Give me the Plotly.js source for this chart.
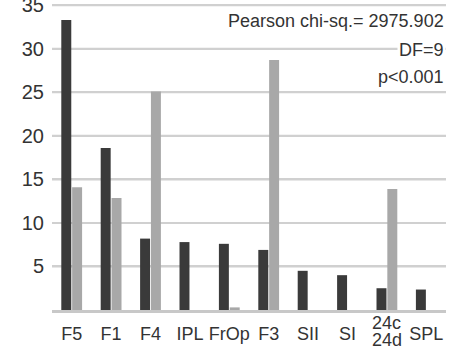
<!DOCTYPE html>
<html>
<head>
<meta charset="utf-8">
<script src="https://cdn.plot.ly/plotly-3.0.1.min.js"></script>
<style>html,body{margin:0;padding:0;background:#fff;}#chart{width:466px;height:349px;}</style>
</head>
<body>
<div id="chart"></div>
<script>
var categories = ["F5", "F1", "F4", "IPL", "FrOp", "F3", "SII", "SI", "24c/24d", "SPL"];
var tickLabels = ["F5", "F1", "F4", "IPL", "FrOp", "F3", "SII", "SI", "", "SPL"];
var splitLabel = ["24c", "24d"];
var seriesDark = [33.3, 18.6, 8.2, 7.8, 7.6, 6.9, 4.5, 4.0, 2.5, 2.35];
var seriesLight = [14.1, 12.85, 25.1, 0, 0.3, 28.7, 0, 0, 13.9, 0];
var yTicks = [5, 10, 15, 20, 25, 30, 35];
var statLines = ["Pearson chi-sq.= 2975.902", "DF=9", "p<0.001"];

var font = "Liberation Sans, Arial, sans-serif";
var traces = [
  {type: "bar", x: categories, y: seriesDark, marker: {color: "#3a3a3a"}},
  {type: "bar", x: categories, y: seriesLight, marker: {color: "#a8a8a8"}}
];

var plotTop = 0, plotBottom = 310;
var statY = [21, 50, 77];
var annotations = statLines.map(function (t, i) {
  return {text: t, xref: "paper", yref: "paper", x: 1, xanchor: "right",
    y: 1 - (statY[i] - plotTop) / (plotBottom - plotTop), yanchor: "middle", showarrow: false,
    bgcolor: "#ffffff", borderpad: 1,
    font: {family: font, size: 18, color: "#333333"}};
});
splitLabel.forEach(function (t, i) {
  annotations.push({text: t, xref: "x", yref: "paper", x: categories[8],
    y: 0, yanchor: "middle", yshift: -(13 + i * 17), showarrow: false,
    font: {family: font, size: 18, color: "#333333"}});
});

// horizontal grid lines at the tick values (drawn below the bars)
var shapes = yTicks.map(function (v) {
  return {type: "line", layer: "below", xref: "paper", x0: 0, x1: 1, yref: "y", y0: v, y1: v,
    line: {color: "#d0d0d0", width: 2}};
});

var layout = {
  width: 466, height: 349,
  margin: {l: 52, r: 20, t: plotTop, b: 349 - plotBottom, pad: 0},
  showlegend: false,
  barmode: "group", bargap: 0.45, bargroupgap: 0.08,
  xaxis: {tickvals: categories, ticktext: tickLabels, showgrid: false,
    showline: true, linecolor: "#c8c8c8", linewidth: 3,
    tickfont: {family: font, size: 18, color: "#333333"}, ticklabelstandoff: 5},
  yaxis: {range: [0, 35.6], tickvals: yTicks, showgrid: true, gridcolor: "#d0d0d0", gridwidth: 2,
    zeroline: false, ticklabeloverflow: "allow",
    tickfont: {family: font, size: 20, color: "#333333"}, ticklabelstandoff: 7},
  shapes: shapes,
  annotations: annotations
};
Plotly.newPlot("chart", traces, layout, {displayModeBar: false}).then(function (gd) {
  document.body.setAttribute("data-ready", "1");
});
</script>
</body>
</html>
